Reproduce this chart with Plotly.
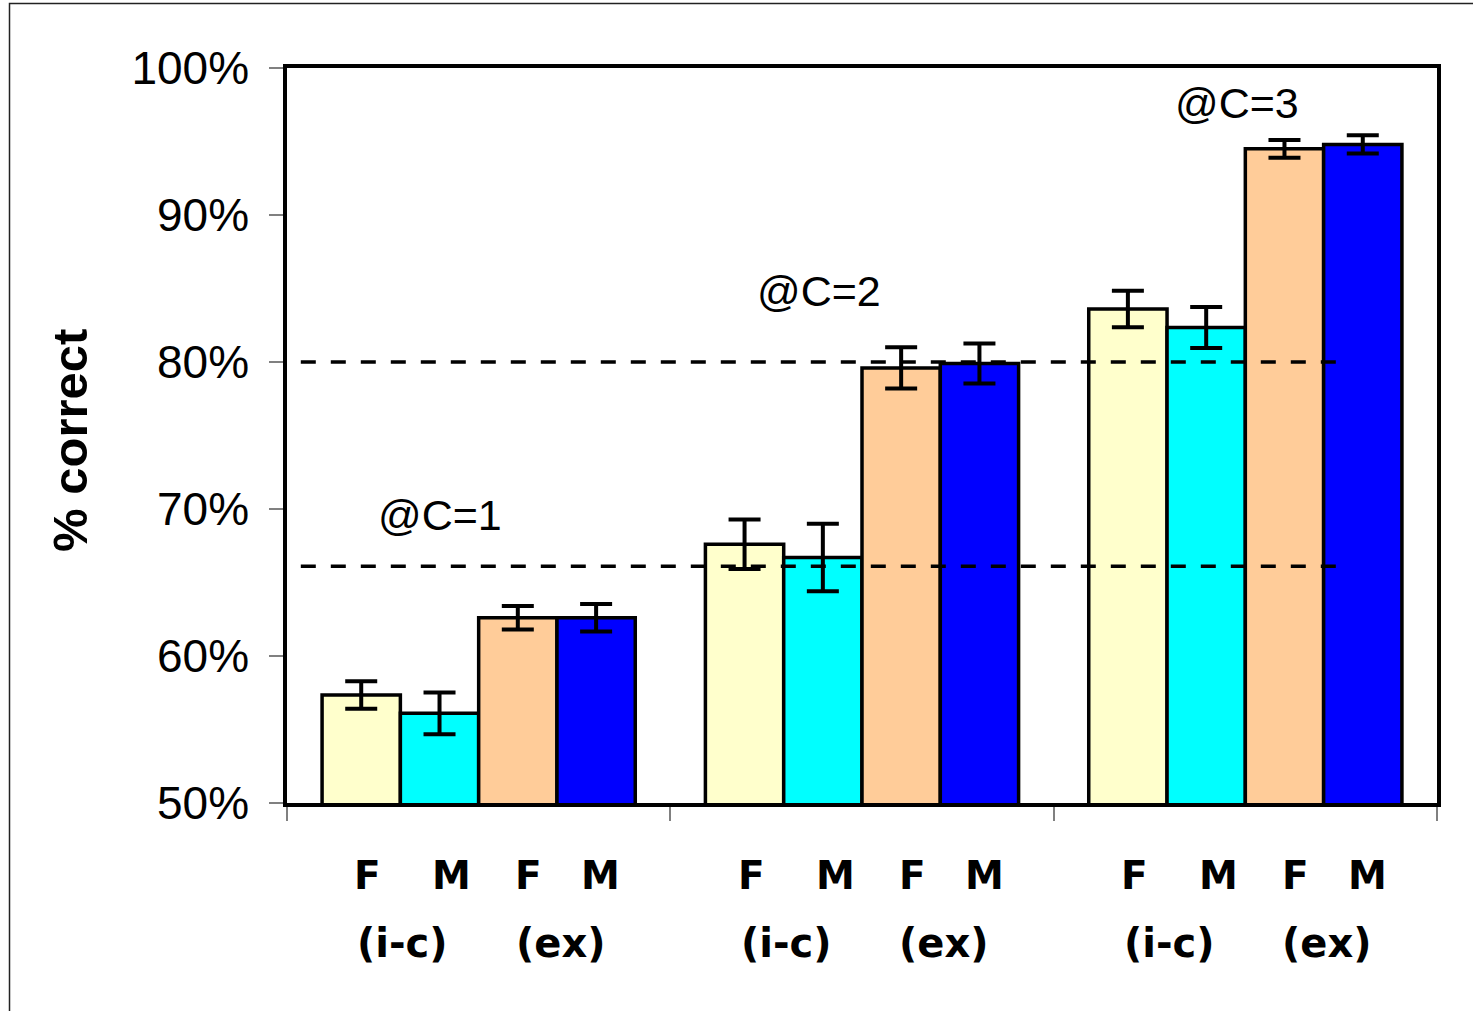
import plotly.graph_objects as go

# Conditions along the x axis and the four bar series per condition
conditions = ["@C=1", "@C=2", "@C=3"]
series_names = ["F (i-c)", "M (i-c)", "F (ex)", "M (ex)"]
series_colors = ["#FFFFCC", "#00FFFF", "#FFCC99", "#0000FF"]

# Percent correct per series, one value per condition
f_ic = [57.35, 67.6, 83.6]
m_ic = [56.1, 66.7, 82.35]
f_ex = [62.6, 79.6, 94.5]
m_ex = [62.6, 79.9, 94.8]

# Error bar half-widths (percentage points)
f_ic_err = [0.94, 1.69, 1.24]
m_ic_err = [1.42, 2.3, 1.4]
f_ex_err = [0.8, 1.4, 0.61]
m_ex_err = [0.93, 1.36, 0.62]

# Reference levels drawn as dashed lines
reference_levels = [66.1, 80.0]

# Labels under every bar and under each pair of bars
bar_labels = ["F", "M", "F", "M"]
pair_labels = ["(i-c)", "(ex)"]

values = [f_ic, m_ic, f_ex, m_ex]
errors = [f_ic_err, m_ic_err, f_ex_err, m_ex_err]

FONT = "Liberation Sans, Arial, sans-serif"
WIDE_BOLD = "DejaVu Sans, Liberation Sans, sans-serif"

fig = go.Figure()
for name, color, vals, errs in zip(series_names, series_colors, values, errors):
    fig.add_trace(go.Bar(
        name=name,
        x=conditions,
        y=[v / 100 for v in vals],
        marker=dict(color=color, line=dict(color="black", width=3.5)),
        error_y=dict(type="data", array=[e / 100 for e in errs],
                     color="black", thickness=4, width=16),
    ))

shapes = []
for level in reference_levels:
    shapes.append(dict(
        type="line", xref="paper", yref="y",
        x0=0.012, x1=0.912, y0=level / 100, y1=level / 100,
        line=dict(color="black", width=3.5, dash="15px,15px"),
        layer="above",
    ))
# thin frame around the whole graphic
shapes.append(dict(
    type="rect", xref="paper", yref="paper",
    x0=-0.2413, x1=1.2, y0=-0.4, y1=1.0878,
    line=dict(color="#222222", width=1.5), layer="below",
))

annotations = []
# condition labels inside the plot
cond_label_pos = [(0.133, 0.696), (0.463, 0.848), (0.826, 0.976)]
for text, (px, py) in zip(conditions, cond_label_pos):
    annotations.append(dict(
        text=text, xref="paper", yref="y", x=px, y=py,
        xanchor="center", yanchor="middle",
        showarrow=False, font=dict(family=FONT, size=43, color="black"),
    ))

# category labels under the bars
bar_shifts = [-111, -27, 50, 122]
pair_shifts = [-76, 82]
for cond in conditions:
    for lab, sh in zip(bar_labels, bar_shifts):
        annotations.append(dict(
            text="<b>%s</b>" % lab, xref="x", yref="paper", x=cond, y=-0.098,
            xshift=sh, showarrow=False, xanchor="center", yanchor="middle",
            font=dict(family=WIDE_BOLD, size=39, color="black"),
        ))
    for lab, sh in zip(pair_labels, pair_shifts):
        annotations.append(dict(
            text="<b>%s</b>" % lab, xref="x", yref="paper", x=cond, y=-0.19,
            xshift=sh, showarrow=False, xanchor="center", yanchor="middle",
            font=dict(family=WIDE_BOLD, size=40, color="black"),
        ))

# y axis title
annotations.append(dict(
    text="<b>% correct</b>", xref="paper", yref="paper", x=-0.1887, y=0.494,
    xanchor="center", yanchor="middle",
    textangle=-90, showarrow=False,
    font=dict(family=FONT, size=49, color="black"),
))

fig.update_layout(
    width=1473, height=1011,
    margin=dict(l=287, r=36, t=68, b=208),
    paper_bgcolor="white", plot_bgcolor="white",
    barmode="group", bargap=0.183, bargroupgap=0,
    showlegend=False,
    shapes=shapes, annotations=annotations,
    font=dict(family=FONT, color="black"),
)
fig.update_xaxes(
    showline=True, linecolor="black", linewidth=3.5, mirror=True,
    ticks="outside", tickson="boundaries", ticklen=14, tickwidth=1.5,
    tickcolor="#808080", showticklabels=False, showgrid=False,
)
fig.update_yaxes(
    range=[0.5, 1.0], dtick=0.1, tickformat=".0%",
    showline=True, linecolor="black", linewidth=3.5, mirror=True,
    ticks="outside", ticklen=14, tickwidth=1.5, tickcolor="#808080",
    ticklabelstandoff=11,
    tickfont=dict(family=FONT, size=46, color="black"),
    showgrid=False, zeroline=False,
)

fig.write_html("out.html")
